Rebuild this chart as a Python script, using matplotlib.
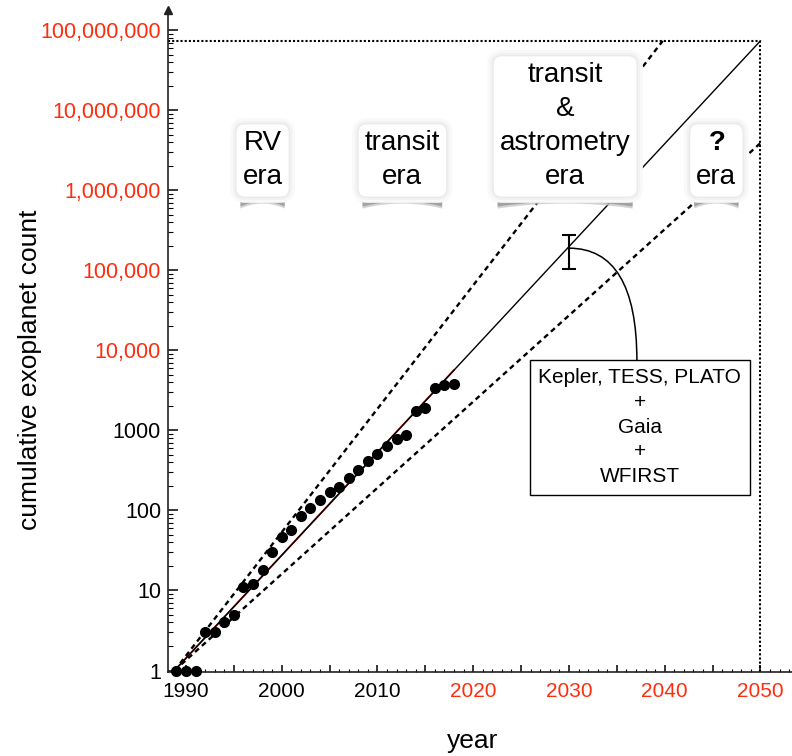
import matplotlib.pyplot as plt
import matplotlib.ticker as mticker
import matplotlib.patheffects as pe
from matplotlib.patches import Polygon
import numpy as np

plt.rcParams['font.family'] = ['Liberation Sans', 'DejaVu Sans']
plt.rcParams['mathtext.fontset'] = 'custom'
plt.rcParams['mathtext.bf'] = 'Liberation Sans:bold'
plt.rcParams['mathtext.rm'] = 'Liberation Sans'

# cumulative count of known exoplanets, one point per year
years = [1989, 1990, 1991, 1992, 1993, 1994, 1995, 1996, 1997, 1998,
         1999, 2000, 2001, 2002, 2003, 2004, 2005, 2006, 2007, 2008,
         2009, 2010, 2011, 2012, 2013, 2014, 2015, 2016, 2017, 2018]
counts = [1, 1, 1, 3, 3, 4, 5, 11, 12, 18,
          30, 46, 57, 85, 108, 135, 170, 198, 252, 317,
          412, 508, 640, 776, 890, 1750, 1900, 3400, 3700, 3780]

# exponential trends (straight lines on log scale)
trend_years = [1988.8, 2050]
trend_counts = [1, 7.4e7]
fit_years = [1988.8, 2018]
fit_counts = [1, 5700]
fast_years = [1988.8, 2039.8]
fast_counts = [1, 7.4e7]
slow_years = [1988.8, 2050]
slow_counts = [1, 3.9e6]

cap_year = 2050
cap_count = 7.4e7

# projection for 2030
proj_year = 2030
proj_count = 1.9e5
proj_low = 1.05e5
proj_high = 2.8e5

eras = [
    (1998.0, 'RV\nera'),
    (2012.6, 'transit\nera'),
    (2029.6, 'transit\n&\nastrometry\nera'),
    (2045.4, r'$\mathbf{?}$' + '\nera'),
]

ytick_vals = [1, 10, 100, 1000, 1e4, 1e5, 1e6, 1e7, 1e8]
ytick_labels = ['1', '10', '100', '1000', '10,000', '100,000',
                '1,000,000', '10,000,000', '100,000,000']
red = '#ff2d0f'

fig = plt.figure(figsize=(7.92, 7.56), dpi=100)
ax = fig.add_axes([168/792, 84/756, 624/792, 662/756])
ax.set_yscale('log')
ax.set_xlim(1988.12, 2053.3)
ax.set_ylim(0.958, 1.8e8)

# lines
dash = (0, (2.2, 1.7))
ax.plot(fit_years, fit_counts, color='#b01515', lw=1.3, zorder=2)
ax.plot(trend_years, trend_counts, color='black', lw=1.0, zorder=2.1)
ax.plot(fast_years, fast_counts, color='black', lw=1.7, ls=dash, zorder=2)
ax.plot(slow_years, slow_counts, color='black', lw=1.7, ls=dash, zorder=2)
ax.plot([1988.12, cap_year], [cap_count, cap_count], color='black', lw=1.5,
        ls=(0, (1, 1)), zorder=2)
ax.plot([cap_year, cap_year], [0.958, cap_count], color='black', lw=1.5,
        ls=(0, (1, 1)), zorder=2)

ax.plot(years, counts, 'o', color='black', ms=7, zorder=3, clip_on=False)

ax.errorbar([proj_year], [proj_count],
            yerr=[[proj_count - proj_low], [proj_high - proj_count]],
            fmt='none', ecolor='black', elinewidth=1.5, capsize=5, capthick=1.5,
            zorder=3)

# annotation box
box_x, box_y = 2037.4, 10**3.04
ax.text(box_x, box_y, 'Kepler, TESS, PLATO\n+\nGaia\n+\nWFIRST', ha='center',
        va='center', fontsize=15, linespacing=1.38, zorder=6,
        bbox=dict(boxstyle='square,pad=0.4', fc='white', ec='black', lw=1))
ax.annotate('', xy=(2037.1, 10**3.87), xytext=(proj_year, proj_count),
            arrowprops=dict(arrowstyle='-', lw=1.1, shrinkA=0, shrinkB=0,
                            connectionstyle='angle3,angleA=0,angleB=90'),
            zorder=4)

# era labels
era_texts = []
for ex, lab in eras:
    t = ax.text(ex, 1e6, lab, ha='center', va='bottom', fontsize=20,
                linespacing=1.4, zorder=5,
                bbox=dict(boxstyle='round,pad=0.22,rounding_size=0.3',
                          fc='white', ec='none'))
    t.get_bbox_patch().set_path_effects([
        pe.Stroke(linewidth=9, foreground='#f9f9f9'),
        pe.Stroke(linewidth=5, foreground='#f2f2f2'),
        pe.Stroke(linewidth=2, foreground='#eaeaea'),
        pe.Normal()])
    era_texts.append(t)

# axes styling
for s in ['top', 'right']:
    ax.spines[s].set_visible(False)
for s in ['left', 'bottom']:
    ax.spines[s].set_linewidth(1.2)
    ax.spines[s].set_color('#222222')
ax.plot(0, 1.0, marker='^', color='#222222', ms=6, transform=ax.transAxes,
        clip_on=False, zorder=5)

ax.yaxis.set_major_locator(mticker.FixedLocator(ytick_vals))
ax.yaxis.set_major_formatter(mticker.FixedFormatter(ytick_labels))
ax.yaxis.set_minor_locator(mticker.LogLocator(base=10, subs=np.arange(2, 10), numticks=20))
ax.yaxis.set_minor_formatter(mticker.NullFormatter())
ax.xaxis.set_major_locator(mticker.MultipleLocator(5))
ax.xaxis.set_minor_locator(mticker.MultipleLocator(1))
ax.xaxis.set_major_formatter(mticker.FuncFormatter(
    lambda v, p: '%d' % v if int(round(v)) % 10 == 0 else ''))
ax.tick_params(axis='y', which='major', direction='in', length=7, width=1.1,
               labelsize=15.5, pad=5)
ax.tick_params(axis='y', which='minor', direction='in', length=3.5, width=0.8)
ax.tick_params(axis='x', which='major', direction='in', length=5, width=1.1,
               labelsize=15, pad=7)
ax.tick_params(axis='x', which='minor', direction='in', length=2.5, width=0.8)

for lbl, v in zip(ax.get_yticklabels(), ytick_vals):
    lbl.set_color(red if v >= 1e4 else 'black')
fig.canvas.draw()
for lbl in ax.get_xticklabels():
    txt = lbl.get_text()
    if txt and int(txt) >= 2020:
        lbl.set_color(red)

fig.text(30/792, 1 - 370/756, 'cumulative exoplanet count', rotation=90,
         ha='center', va='center', fontsize=19)
fig.text(473/792, 1 - 748/756, 'year', ha='center', va='baseline', fontsize=19)

# gray curled shadow under each era box
renderer = fig.canvas.get_renderer()
inv = ax.transAxes.inverted()
for t in era_texts:
    bb = t.get_bbox_patch().get_window_extent(renderer)
    x0, x1 = bb.x0 + 4, bb.x1 - 4
    top = bb.y0
    xs = np.linspace(x0, x1, 30)
    u = (xs - x0) / (x1 - x0) * 2 - 1
    for depth, mid, col, a in [(12, 7, '#c8c8c8', 0.8), (10, 5, '#9a9a9a', 0.85)]:
        bot = top - (mid + (depth - mid) * u**2)
        verts = [(x0, top)] + list(zip(xs, bot)) + [(x1, top)]
        verts = [tuple(inv.transform(v)) for v in verts]
        ax.add_patch(Polygon(verts, closed=True, transform=ax.transAxes,
                             fc=col, ec='none', alpha=a, zorder=4.9))

fig.savefig('out.png', dpi=100)
